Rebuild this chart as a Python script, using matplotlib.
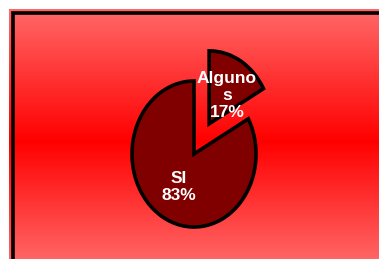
import numpy as np
import matplotlib
matplotlib.use("Agg")
import matplotlib.pyplot as plt
from matplotlib.colors import LinearSegmentedColormap

# Data
labels = ["Alguno\ns", "SI"]
shares = [17, 83]
explode = [0.48, 0.0]

W, H = 379, 259
fig = plt.figure(figsize=(W / 100, H / 100), dpi=100)
fig.patch.set_facecolor("white")

# Background panel with vertical gradient (pink - red - pink)
bg = fig.add_axes([0, 0, 1, 1])
bg.set_xlim(0, W)
bg.set_ylim(H, 0)
bg.axis("off")
cmap = LinearSegmentedColormap.from_list(
    "grad", [(0.0, "#ff6868"), (0.53, "#ff0000"), (1.0, "#ff6464")])
grad = np.linspace(0, 1, 256).reshape(-1, 1)
bg.imshow(grad, cmap=cmap, aspect="auto", extent=(9, W, H, 9), zorder=0)
bg.plot([12.5, 12.5, W], [H, 13, 13], color="black", lw=2.6,
        solid_capstyle="butt", solid_joinstyle="miter", zorder=1)

# Pie (slightly elliptical, like the original)
cx, cy, rx, ry = 194, 154, 62, 73
k = 1.6
ax = fig.add_axes([(cx - k * rx) / W, (H - cy - k * ry) / H,
                   2 * k * rx / W, 2 * k * ry / H])
ax.patch.set_alpha(0)
wedges, _ = ax.pie(shares, explode=explode, startangle=90, counterclock=False,
                   colors=["#800000", "#800000"],
                   wedgeprops=dict(edgecolor="black", linewidth=2.6))
ax.set_aspect("auto")
ax.set_xlim(-k, k)
ax.set_ylim(-k, k)
ax.axis("off")

txt = dict(color="white", fontsize=12.5, family="Liberation Sans",
           weight="bold", ha="center", va="center", linespacing=1.15)
ax.text(0.53, 0.80, f"{labels[0]}\n{shares[0]}%", **txt)
ax.text(-0.24, -0.45, f"{labels[1]}\n{shares[1]}%", **txt)

fig.savefig("out.png", dpi=100)
